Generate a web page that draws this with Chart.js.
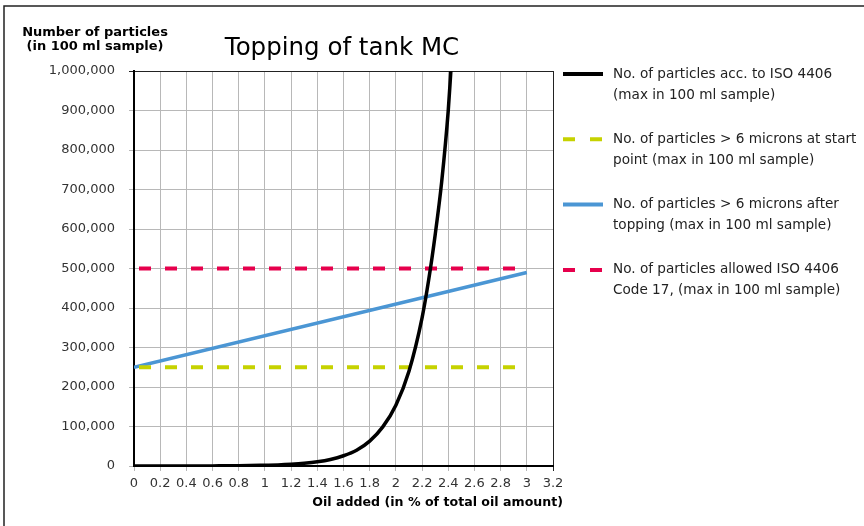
<!DOCTYPE html>
<html>
<head>
<meta charset="utf-8">
<script src="https://cdn.jsdelivr.net/npm/chart.js@4.4.1/dist/chart.umd.min.js"></script>
<style>
  html, body { margin: 0; padding: 0; background: #fff; }
  #wrap { width: 864px; height: 526px; }
</style>
</head>
<body>
<div id="wrap"><canvas id="chart" width="864" height="526"></canvas></div>
<script>
// particles acc. to ISO 4406 (black curve)
const isoX = [0, 0.2, 0.4, 0.6, 0.8, 1.0, 1.1, 1.2, 1.3, 1.4, 1.5, 1.6, 1.7, 1.8, 1.9, 2.0, 2.1, 2.2, 2.25, 2.3, 2.35, 2.4, 2.42];
const isoY = [0, 0, 100, 300, 700, 2000, 2800, 4400, 6800, 10500, 16500, 26000, 40000, 63000, 99000, 154000, 240000, 375000, 470000, 585000, 720000, 900000, 1000000];

// straight series, start and end of topping range
const lineX = [0, 3.0];
const startY = [250000, 250000];
const afterY = [250000, 490000];
const allowedY = [500000, 500000];

const xTicks = [0, 0.2, 0.4, 0.6, 0.8, 1, 1.2, 1.4, 1.6, 1.8, 2, 2.2, 2.4, 2.6, 2.8, 3, 3.2];
const yTicks = [0, 100000, 200000, 300000, 400000, 500000, 600000, 700000, 800000, 900000, 1000000];

const legendText = [
    ['No. of particles acc. to ISO 4406', '(max in 100 ml sample)'],
    ['No. of particles > 6 microns at start', 'point (max in 100 ml sample)'],
    ['No. of particles > 6 microns after', 'topping (max in 100 ml sample)'],
    ['No. of particles allowed ISO 4406', 'Code 17, (max in 100 ml sample)']
];

const FONT = 'DejaVu Sans';
const pts = (xs, ys) => xs.map((x, i) => ({ x: x, y: ys[i] }));

const datasets = [
    { label: legendText[0].join(' '), data: pts(isoX, isoY), borderColor: '#000000', borderWidth: 3.5, cubicInterpolationMode: 'monotone' },
    { label: legendText[1].join(' '), data: pts(lineX, startY), borderColor: '#c6d200', borderWidth: 4, borderDash: [12, 14], borderDashOffset: 21 },
    { label: legendText[2].join(' '), data: pts(lineX, afterY), borderColor: '#4b96d4', borderWidth: 3.5 },
    { label: legendText[3].join(' '), data: pts(lineX, allowedY), borderColor: '#e6004c', borderWidth: 4, borderDash: [12, 14], borderDashOffset: 21 }
];

const decor = {
    id: 'decor',
    afterDraw(chart) {
        const ctx = chart.ctx;
        ctx.save();
        // outer frame (top and left edges only visible)
        ctx.strokeStyle = '#222';
        ctx.lineWidth = 1.5;
        ctx.beginPath();
        ctx.moveTo(4, 526);
        ctx.lineTo(4, 6);
        ctx.lineTo(864, 6);
        ctx.stroke();

        ctx.fillStyle = '#000';
        ctx.textAlign = 'center';
        ctx.textBaseline = 'alphabetic';
        ctx.font = '24.5px "' + FONT + '"';
        ctx.fillText('Topping of tank MC', 342, 55);

        ctx.font = 'bold 13px "' + FONT + '"';
        ctx.fillText('Number of particles', 95, 36);
        ctx.fillText('(in 100 ml sample)', 95, 50);

        ctx.textAlign = 'right';
        ctx.font = 'bold 12.6px "' + FONT + '"';
        ctx.fillText('Oil added (in % of total oil amount)', 563, 506);

        // legend
        ctx.textAlign = 'left';
        ctx.textBaseline = 'middle';
        ctx.font = '13.6px "' + FONT + '"';
        datasets.forEach((ds, i) => {
            const y = 74 + i * 65.3;
            ctx.strokeStyle = ds.borderColor;
            ctx.lineWidth = 4;
            ctx.setLineDash(ds.borderDash ? [12, 15] : []);
            ctx.beginPath();
            ctx.moveTo(563, y);
            ctx.lineTo(603, y);
            ctx.stroke();
            ctx.setLineDash([]);
            ctx.fillStyle = '#222';
            ctx.fillText(legendText[i][0], 613, y);
            ctx.fillText(legendText[i][1], 613, y + 21);
        });
        ctx.restore();
    }
};

new Chart(document.getElementById('chart'), {
    type: 'line',
    data: { datasets: datasets },
    options: {
        responsive: false,
        animation: false,
        devicePixelRatio: 1,
        layout: { padding: { left: 0, top: 71, right: 311, bottom: 0 } },
        elements: { point: { radius: 0 }, line: { tension: 0 } },
        plugins: { legend: { display: false }, title: { display: false }, tooltip: { enabled: false } },
        scales: {
            x: {
                type: 'linear',
                min: 0,
                max: 3.2,
                afterBuildTicks: s => { s.ticks = xTicks.map(v => ({ value: v })); },
                afterFit: s => { s.height = 60; },
                ticks: {
                    color: '#333',
                    font: { family: FONT, size: 13 },
                    padding: 5,
                    maxRotation: 0,
                    autoSkip: false,
                    callback: v => String(v)
                },
                grid: {
                    color: c => (c.tick && c.tick.value === 3.2) ? '#222' : '#b8b8b8',
                    tickLength: 5,
                    lineWidth: 1
                },
                border: { color: '#000', width: 2 }
            },
            y: {
                type: 'linear',
                min: 0,
                max: 1000000,
                afterBuildTicks: s => { s.ticks = yTicks.map(v => ({ value: v })); },
                afterFit: s => { s.width = 134; },
                ticks: {
                    color: '#333',
                    font: { family: FONT, size: 13 },
                    padding: 14,
                    callback: v => v.toLocaleString('en-US')
                },
                grid: {
                    color: c => (c.tick && c.tick.value === 1000000) ? '#222' : '#b8b8b8',
                    tickLength: 5,
                    lineWidth: 1
                },
                border: { color: '#000', width: 2 }
            }
        }
    },
    plugins: [decor]
});
</script>
</body>
</html>
